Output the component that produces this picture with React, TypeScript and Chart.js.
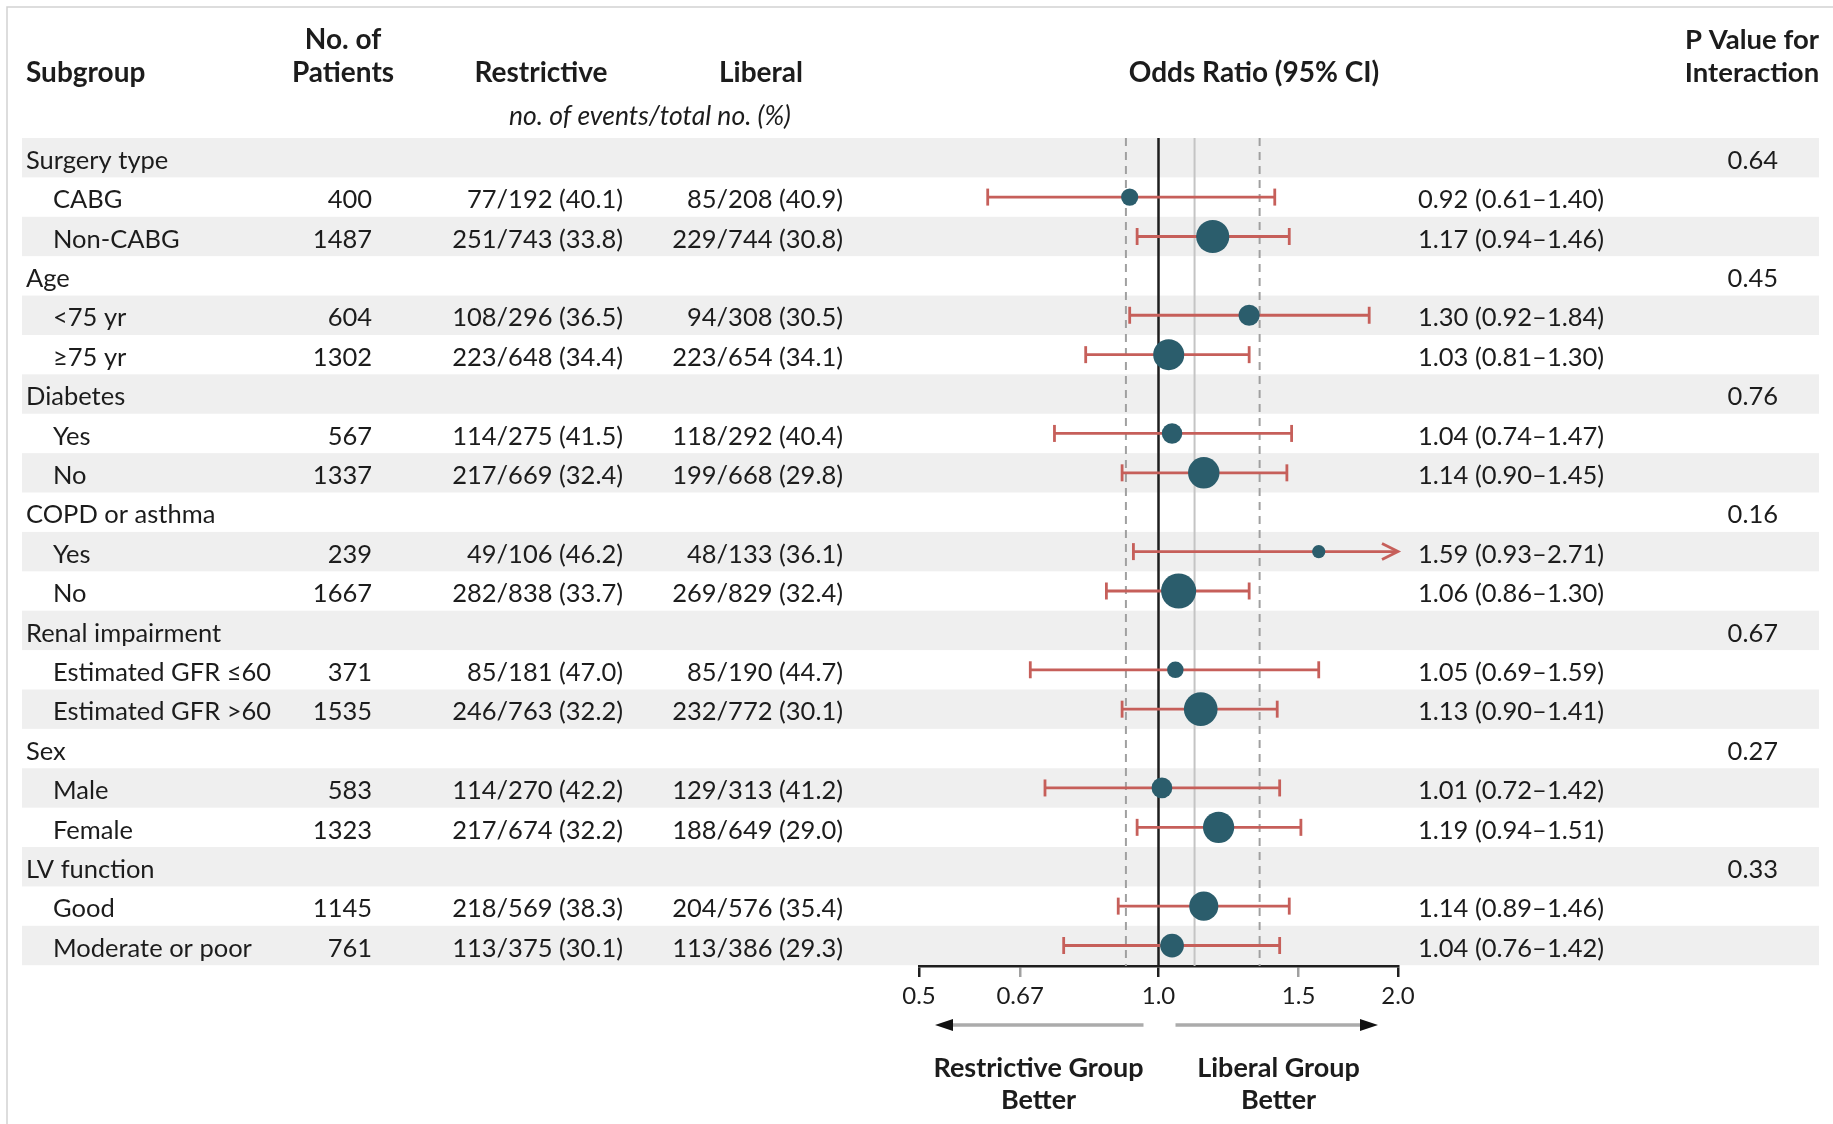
import React, { useEffect, useRef } from "react";
import { Chart, registerables } from "chart.js";

Chart.register(...registerables);

const groupNames = ["Surgery type", "Age", "Diabetes", "COPD or asthma", "Renal impairment", "Sex", "LV function"];
const pInteraction = ["0.64", "0.45", "0.76", "0.16", "0.67", "0.27", "0.33"];
const subgroupNames = [
  "CABG", "Non-CABG", "<75 yr", "\u226575 yr", "Yes", "No", "Yes", "No",
  "Estimated GFR \u226460", "Estimated GFR >60", "Male", "Female", "Good", "Moderate or poor",
];
const patients = [400, 1487, 604, 1302, 567, 1337, 239, 1667, 371, 1535, 583, 1323, 1145, 761];
const restrictiveEvents = [
  "77/192 (40.1)", "251/743 (33.8)", "108/296 (36.5)", "223/648 (34.4)", "114/275 (41.5)",
  "217/669 (32.4)", "49/106 (46.2)", "282/838 (33.7)", "85/181 (47.0)", "246/763 (32.2)",
  "114/270 (42.2)", "217/674 (32.2)", "218/569 (38.3)", "113/375 (30.1)",
];
const liberalEvents = [
  "85/208 (40.9)", "229/744 (30.8)", "94/308 (30.5)", "223/654 (34.1)", "118/292 (40.4)",
  "199/668 (29.8)", "48/133 (36.1)", "269/829 (32.4)", "85/190 (44.7)", "232/772 (30.1)",
  "129/313 (41.2)", "188/649 (29.0)", "204/576 (35.4)", "113/386 (29.3)",
];
const oddsRatio = [0.92, 1.17, 1.30, 1.03, 1.04, 1.14, 1.59, 1.06, 1.05, 1.13, 1.01, 1.19, 1.14, 1.04];
const ciLower = [0.61, 0.94, 0.92, 0.81, 0.74, 0.90, 0.93, 0.86, 0.69, 0.90, 0.72, 0.94, 0.89, 0.76];
const ciUpper = [1.40, 1.46, 1.84, 1.30, 1.47, 1.45, 2.71, 1.30, 1.59, 1.41, 1.42, 1.51, 1.46, 1.42];

const xTickValues = [0.5, 0.67, 1.0, 1.5, 2.0];
const xTickLabels = ["0.5", "0.67", "1.0", "1.5", "2.0"];

const overallOR = 1.11;
const overallLower = 0.91;
const overallUpper = 1.34;

const X_MIN = 0.5;
const X_MAX = 2.0;
const ROW_COUNT = groupNames.length * 3;

const TEXT = "#1c1c1c";
const DOT = "#2b5d6c";
const WHISKER = "#c65f5a";
const STRIPE = "#efefef";
const FONT = "Lato, 'Noto Sans', sans-serif";

const rowOfGroup = (g: number) => g * 3;
const rowOfSub = (k: number) => Math.floor(k / 2) * 3 + 1 + (k % 2);
const fmt = (v: number) => v.toFixed(2);

const forestPlugin = {
  id: "forest",
  beforeDraw(chart: any) {
    const { ctx, scales } = chart;
    const y = scales.y;
    ctx.save();
    ctx.fillStyle = "#ffffff";
    ctx.fillRect(0, 0, chart.width, chart.height);
    ctx.fillStyle = STRIPE;
    for (let r = 0; r < ROW_COUNT; r += 2) {
      const t = y.getPixelForValue(r - 0.5);
      const b = y.getPixelForValue(r + 0.5);
      ctx.fillRect(22, t, 1819 - 22, b - t);
    }
    ctx.strokeStyle = "#d2d2d2";
    ctx.lineWidth = 1.5;
    ctx.beginPath();
    ctx.moveTo(7, chart.height);
    ctx.lineTo(7, 7);
    ctx.lineTo(chart.width, 7);
    ctx.stroke();
    ctx.restore();
  },
  beforeDatasetsDraw(chart: any) {
    const { ctx, scales, chartArea } = chart;
    const x = scales.x;
    const y = scales.y;
    const top = chartArea.top;
    const bottom = chartArea.bottom;
    ctx.save();
    ctx.strokeStyle = "#a0a0a0";
    ctx.lineWidth = 2;
    ctx.setLineDash([8, 6]);
    [overallLower, overallUpper].forEach((v) => {
      const px = x.getPixelForValue(v);
      ctx.beginPath();
      ctx.moveTo(px, top);
      ctx.lineTo(px, bottom);
      ctx.stroke();
    });
    ctx.setLineDash([]);
    ctx.strokeStyle = "#c4c4c4";
    ctx.lineWidth = 2;
    const po = x.getPixelForValue(overallOR);
    ctx.beginPath();
    ctx.moveTo(po, top);
    ctx.lineTo(po, bottom);
    ctx.stroke();
    ctx.strokeStyle = "#1e1e1e";
    ctx.lineWidth = 2.5;
    const p1 = x.getPixelForValue(1.0);
    ctx.beginPath();
    ctx.moveTo(p1, top);
    ctx.lineTo(p1, bottom);
    ctx.stroke();
    ctx.strokeStyle = WHISKER;
    ctx.lineWidth = 2.8;
    const cap = 8.5;
    for (let k = 0; k < oddsRatio.length; k++) {
      const py = y.getPixelForValue(rowOfSub(k));
      const xl = x.getPixelForValue(Math.max(ciLower[k], X_MIN));
      const clipped = ciUpper[k] > X_MAX;
      const xh = x.getPixelForValue(Math.min(ciUpper[k], X_MAX));
      ctx.beginPath();
      ctx.moveTo(xl, py);
      ctx.lineTo(xh, py);
      ctx.stroke();
      ctx.beginPath();
      ctx.moveTo(xl, py - cap);
      ctx.lineTo(xl, py + cap);
      ctx.stroke();
      if (clipped) {
        ctx.beginPath();
        ctx.moveTo(xh - 16, py - 8);
        ctx.lineTo(xh, py);
        ctx.lineTo(xh - 16, py + 8);
        ctx.stroke();
      } else {
        ctx.beginPath();
        ctx.moveTo(xh, py - cap);
        ctx.lineTo(xh, py + cap);
        ctx.stroke();
      }
    }
    ctx.restore();
  },
  afterDraw(chart: any) {
    const { ctx, scales } = chart;
    const x = scales.x;
    const y = scales.y;
    ctx.save();
    ctx.fillStyle = TEXT;
    ctx.textBaseline = "middle";

    ctx.font = `bold 28px ${FONT}`;
    ctx.textAlign = "left";
    ctx.fillText("Subgroup", 26, 73);
    ctx.textAlign = "center";
    ctx.fillText("No. of", 343, 40);
    ctx.fillText("Patients", 343, 73);
    ctx.fillText("Restrictive", 541, 73);
    ctx.fillText("Liberal", 761, 73);
    ctx.fillText("Odds Ratio (95% CI)", 1254, 73);
    ctx.font = `bold 27.5px ${FONT}`;
    ctx.fillText("P Value for", 1752, 40);
    ctx.fillText("Interaction", 1752, 73);
    ctx.font = `italic 26.5px ${FONT}`;
    ctx.fillText("no. of events/total no. (%)", 650, 116);

    ctx.font = `25.5px ${FONT}`;
    for (let g = 0; g < groupNames.length; g++) {
      const py = y.getPixelForValue(rowOfGroup(g)) + 3;
      ctx.textAlign = "left";
      ctx.fillText(groupNames[g], 26, py);
      ctx.textAlign = "right";
      ctx.fillText(pInteraction[g], 1778, py);
    }
    for (let k = 0; k < subgroupNames.length; k++) {
      const py = y.getPixelForValue(rowOfSub(k)) + 3;
      ctx.textAlign = "left";
      ctx.fillText(subgroupNames[k], 53, py);
      ctx.textAlign = "right";
      ctx.fillText(String(patients[k]), 372, py);
      ctx.fillText(restrictiveEvents[k], 623, py);
      ctx.fillText(liberalEvents[k], 843, py);
      ctx.textAlign = "left";
      ctx.fillText(`${fmt(oddsRatio[k])} (${fmt(ciLower[k])}\u2013${fmt(ciUpper[k])})`, 1418, py);
    }

    const p1 = x.getPixelForValue(1.0);
    const ay = 1025;
    const drawArrow = (from: number, to: number) => {
      const dir = Math.sign(to - from);
      ctx.strokeStyle = "#ababab";
      ctx.lineWidth = 3.5;
      ctx.beginPath();
      ctx.moveTo(from, ay);
      ctx.lineTo(to - dir * 14, ay);
      ctx.stroke();
      ctx.fillStyle = "#111111";
      ctx.beginPath();
      ctx.moveTo(to, ay);
      ctx.lineTo(to - dir * 18, ay - 6);
      ctx.lineTo(to - dir * 18, ay + 6);
      ctx.closePath();
      ctx.fill();
    };
    drawArrow(p1 - 15, x.getPixelForValue(X_MIN) + 16);
    drawArrow(p1 + 17, x.getPixelForValue(X_MAX) - 20);

    ctx.fillStyle = TEXT;
    ctx.font = `bold 27px ${FONT}`;
    ctx.textAlign = "center";
    ctx.fillText("Restrictive Group", p1 - 120, 1068);
    ctx.fillText("Better", p1 - 120, 1100);
    ctx.fillText("Liberal Group", p1 + 120, 1068);
    ctx.fillText("Better", p1 + 120, 1100);
    ctx.restore();
  },
};

export default function App() {
  const canvasRef = useRef<HTMLCanvasElement | null>(null);

  useEffect(() => {
    document.body.style.margin = "0";
    const canvas = canvasRef.current;
    if (!canvas) return;
    const chart = new Chart(canvas, {
      type: "scatter",
      data: {
        datasets: [
          {
            data: oddsRatio.map((v, k) => ({ x: v, y: rowOfSub(k) })),
            backgroundColor: DOT,
            borderColor: DOT,
            borderWidth: 0,
            pointRadius: (c: any) => 0.43 * Math.sqrt(patients[c.dataIndex] ?? 0),
            pointHoverRadius: (c: any) => 0.43 * Math.sqrt(patients[c.dataIndex] ?? 0),
            clip: false as any,
          },
        ],
      },
      options: {
        animation: false,
        responsive: false,
        devicePixelRatio: 1,
        events: [],
        layout: { padding: { left: 919, right: 435, top: 138, bottom: 113 } },
        plugins: {
          legend: { display: false },
          tooltip: { enabled: false },
          title: { display: false },
        },
        scales: {
          x: {
            type: "logarithmic",
            min: X_MIN,
            max: X_MAX,
            position: "bottom",
            afterBuildTicks: (axis: any) => {
              axis.ticks = xTickValues.map((v) => ({ value: v }));
            },
            afterFit: (axis: any) => {
              axis.height = 45;
            },
            border: { display: true, color: "#1e1e1e", width: 2.5 },
            grid: {
              display: true,
              drawOnChartArea: false,
              drawTicks: true,
              tickLength: 11,
              lineWidth: 2.5,
              color: (c: any) => {
                const v = c.tick ? c.tick.value : 0;
                return v === 0.5 || v === 1 || v === 2 ? "#1e1e1e" : "#a0a0a0";
              },
            },
            ticks: {
              callback: (_v: any, i: number) => xTickLabels[i],
              font: { family: FONT, size: 24 },
              color: TEXT,
              padding: 5,
              maxRotation: 0,
              autoSkip: false,
            },
          },
          y: {
            type: "linear",
            display: false,
            min: -0.5,
            max: ROW_COUNT - 0.48,
            reverse: true,
          },
        },
      } as any,
      plugins: [forestPlugin],
    });
    return () => chart.destroy();
  }, []);

  return (
    <div style={{ width: 1833, height: 1124, overflow: "hidden" }}>
      <canvas ref={canvasRef} width={1833} height={1124} style={{ display: "block" }} />
    </div>
  );
}
